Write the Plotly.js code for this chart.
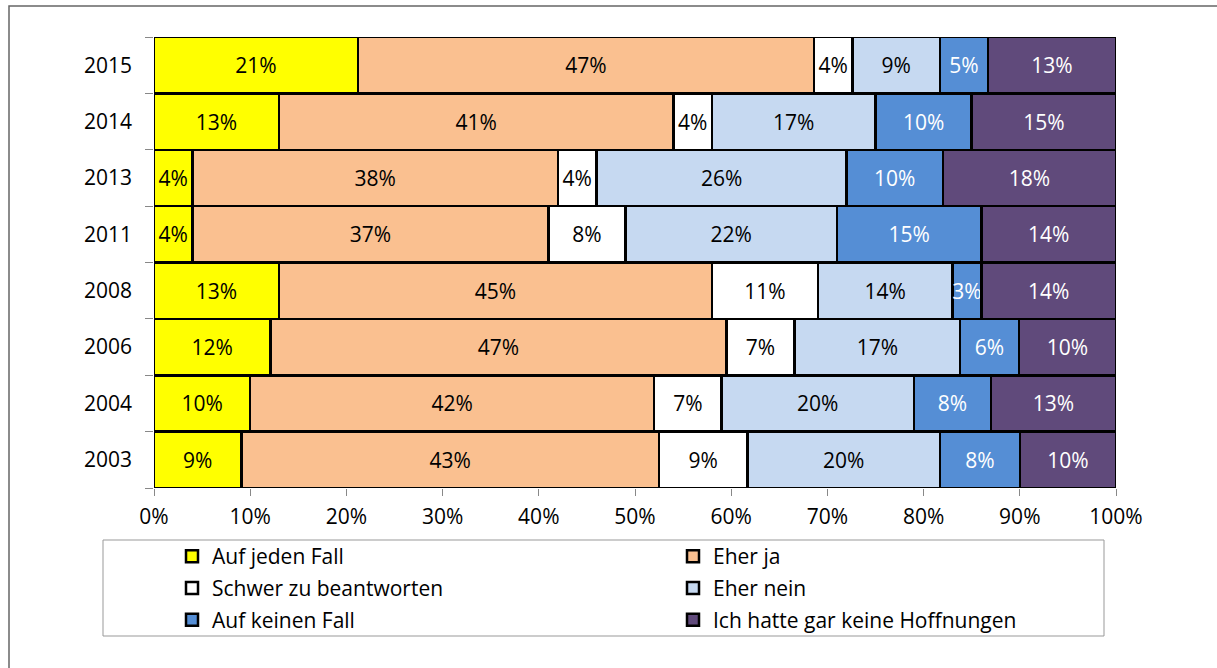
<!DOCTYPE html>
<html>
<head>
<meta charset="utf-8">
<script src="https://cdn.plot.ly/plotly-3.0.1.min.js"></script>
<style>html,body{margin:0;padding:0;background:#fff;}#chart{width:1217px;height:668px;}</style>
</head>
<body>
<div id="chart"></div>
<script>
// Data (bottom to top)
const years = ['2003', '2004', '2006', '2008', '2011', '2013', '2014', '2015'];
const aufJedenFall = [9.1, 10, 12.1, 13, 4, 4, 13, 21.2];
const eherJa = [43.4, 42, 47.4, 45, 37, 38, 41, 47.4];
const schwerZuBeantworten = [9.2, 7, 7.1, 11, 8, 4, 4, 4];
const eherNein = [20, 20, 17.2, 14, 22, 26, 17, 9.1];
const aufKeinenFall = [8.3, 8, 6.1, 3, 15, 10, 10, 5];
const keineHoffnungen = [10, 13, 10.1, 14, 14, 18, 15, 13.3];

const xTickVals = [0, 10, 20, 30, 40, 50, 60, 70, 80, 90, 100];
const xTickText = ['0%', '10%', '20%', '30%', '40%', '50%', '60%', '70%', '80%', '90%', '100%'];

const seriesNames = ['Auf jeden Fall', 'Eher ja', 'Schwer zu beantworten', 'Eher nein', 'Auf keinen Fall', 'Ich hatte gar keine Hoffnungen'];
const seriesValues = [aufJedenFall, eherJa, schwerZuBeantworten, eherNein, aufKeinenFall, keineHoffnungen];
const seriesColors = ['#FFFF00', '#FAC090', '#FFFFFF', '#C6D9F1', '#558ED5', '#604A7B'];
const textColors = ['#000', '#000', '#000', '#000', '#fff', '#fff'];
const legendIds = ['legend', 'legend2', 'legend', 'legend2', 'legend', 'legend2'];

const FONT = 'Open Sans, Noto Sans, sans-serif';
const FS = 21;

const traces = seriesNames.map((name, i) => ({
  type: 'bar',
  orientation: 'h',
  name: name,
  y: years,
  x: seriesValues[i],
  marker: {color: seriesColors[i], line: {color: '#000', width: 2.5}},
  texttemplate: '%{x:.0f}%',
  textposition: 'inside',
  insidetextanchor: 'middle',
  textangle: 0,
  constraintext: 'none',
  insidetextfont: {color: textColors[i], size: FS, family: FONT},
  hoverinfo: 'skip',
  legend: legendIds[i],
  legendgroup: 'g' + i
}));

// helper trace so the tick axis exists
traces.push({type: 'scatter', x: [], y: [], yaxis: 'y2', showlegend: false, hoverinfo: 'skip'});

const L = 154, R = 101, T = 37, B = 180;
const W = 1217, H = 668;
const pw = W - L - R, ph = H - T - B;
const px = v => (v - L) / pw;
const py = v => (H - B - v) / ph;

const layout = {
  width: W, height: H,
  margin: {l: L, r: R, t: T, b: B, pad: 0},
  paper_bgcolor: '#fff', plot_bgcolor: '#fff',
  font: {family: FONT, size: FS, color: '#000'},
  barmode: 'stack',
  bargap: 0,
  showlegend: true,
  xaxis: {
    range: [0, 100], tickmode: 'array', tickvals: xTickVals, ticktext: xTickText,
    ticks: 'outside', ticklen: 7, tickcolor: '#888', tickwidth: 1,
    showgrid: false, zeroline: false, showline: false, fixedrange: true,
    tickfont: {size: FS, family: FONT}, ticklabelstandoff: 3
  },
  yaxis: {
    type: 'category', ticks: '', showgrid: false, zeroline: false, showline: false,
    tickfont: {size: FS, family: FONT}, ticklabelstandoff: 21, fixedrange: true
  },
  yaxis2: {
    overlaying: 'y', side: 'left', range: [-0.5, 7.5],
    tickvals: [-0.5, 0.5, 1.5, 2.5, 3.5, 4.5, 5.5, 6.5, 7.5],
    showticklabels: false, ticks: 'outside', ticklen: 8, tickcolor: '#888',
    showgrid: false, zeroline: false, showline: false, fixedrange: true
  },
  legend: {
    orientation: 'v', x: px(172), xanchor: 'left', y: py(536), yanchor: 'top',
    bgcolor: 'rgba(0,0,0,0)', borderwidth: 0, tracegroupgap: 1.5,
    font: {size: FS, family: FONT}, itemclick: false, itemdoubleclick: false
  },
  legend2: {
    orientation: 'v', x: px(673), xanchor: 'left', y: py(536), yanchor: 'top',
    bgcolor: 'rgba(0,0,0,0)', borderwidth: 0, tracegroupgap: 1.5,
    font: {size: FS, family: FONT}, itemclick: false, itemdoubleclick: false
  },
  shapes: [
    {type: 'rect', xref: 'paper', yref: 'paper', x0: px(9), x1: px(1240), y0: py(690), y1: py(6),
     line: {color: '#666', width: 1.5}, fillcolor: 'rgba(0,0,0,0)', layer: 'below'},
    {type: 'rect', xref: 'paper', yref: 'paper', x0: px(103), x1: px(1104), y0: py(636), y1: py(540),
     line: {color: '#999', width: 1}, fillcolor: 'rgba(0,0,0,0)', layer: 'below'}
  ]
};

Plotly.newPlot('chart', traces, layout, {displayModeBar: false, staticPlot: true});
</script>
</body>
</html>
